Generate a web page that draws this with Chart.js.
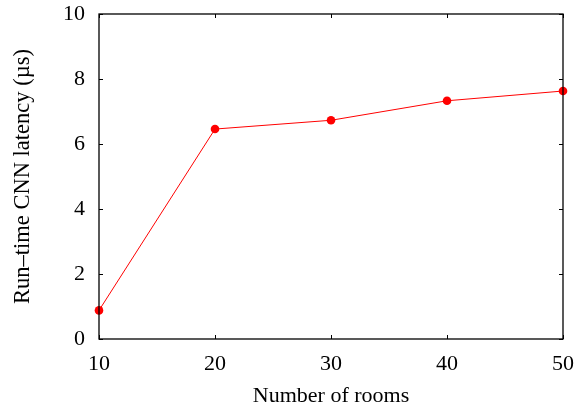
<!DOCTYPE html>
<html><head><meta charset="utf-8">
<script src="https://cdn.jsdelivr.net/npm/chart.js@4"></script>
<style>html,body{margin:0;padding:0;background:#fff}#wrap{width:576px;height:409px}</style>
</head><body><div id="wrap"><canvas id="c"></canvas></div>
<script>
const rooms = [10, 20, 30, 40, 50];
const latency = [0.88, 6.46, 6.73, 7.33, 7.63];
const xTicks = [10, 20, 30, 40, 50];
const yTicks = [0, 2, 4, 6, 8, 10];
const FONT = "'Liberation Serif', 'Times New Roman', serif";

const frame = {
  id: 'frame',
  afterDraw(chart) {
    const {ctx, chartArea: a, scales} = chart;
    ctx.save();
    ctx.strokeStyle = '#000';
    ctx.lineWidth = 1;
    ctx.beginPath();
    const L = 4;
    for (const v of xTicks) {
      const x = Math.round(scales.x.getPixelForValue(v)) + 0.5;
      ctx.moveTo(x, a.bottom); ctx.lineTo(x, a.bottom - L);
      ctx.moveTo(x, a.top); ctx.lineTo(x, a.top + L);
    }
    for (const v of yTicks) {
      const y = Math.round(scales.y.getPixelForValue(v)) + 0.5;
      ctx.moveTo(a.left, y); ctx.lineTo(a.left + L, y);
      ctx.moveTo(a.right, y); ctx.lineTo(a.right - L, y);
    }
    ctx.stroke();
    ctx.lineWidth = 1.3;
    ctx.strokeRect(a.left, a.top, a.right - a.left, a.bottom - a.top);
    ctx.restore();
  }
};

new Chart(document.getElementById('c'), {
  type: 'line',
  data: {
    datasets: [{
      data: rooms.map((r, i) => ({x: r, y: latency[i]})),
      borderColor: '#ff0000',
      backgroundColor: '#ff0000',
      borderWidth: 1,
      pointRadius: 4.3,
      pointHoverRadius: 4.3,
      pointBorderWidth: 0,
      tension: 0,
      clip: false
    }]
  },
  options: {
    responsive: true,
    maintainAspectRatio: false,
    animation: false,
    devicePixelRatio: 1,
    layout: {padding: {top: 14, right: 13, left: 0, bottom: 0}},
    plugins: {legend: {display: false}, tooltip: {enabled: false}},
    scales: {
      x: {
        type: 'linear', min: 10, max: 50,
        afterBuildTicks: s => { s.ticks = xTicks.map(v => ({value: v})); },
        afterFit: s => { s.height = 70; s.paddingLeft = 0; s.paddingRight = 0; },
        grid: {display: false, drawTicks: false},
        border: {display: false},
        ticks: {color: '#000', font: {family: FONT, size: 22}, padding: 12, maxRotation: 0},
        title: {display: true, text: 'Number of rooms', color: '#000', font: {family: FONT, size: 22}, padding: {top: 6, bottom: 0}}
      },
      y: {
        type: 'linear', min: 0, max: 10,
        afterBuildTicks: s => { s.ticks = yTicks.map(v => ({value: v})); },
        afterFit: s => { s.width = 99; s.paddingTop = 0; s.paddingBottom = 0; },
        grid: {display: false, drawTicks: false},
        border: {display: false},
        ticks: {color: '#000', font: {family: FONT, size: 22}, padding: 14},
        title: {display: true, text: 'Run–time CNN latency (µs)', color: '#000', font: {family: FONT, size: 22.5}, padding: {top: 10, bottom: 6}}
      }
    }
  },
  plugins: [frame]
});
</script></body></html>
